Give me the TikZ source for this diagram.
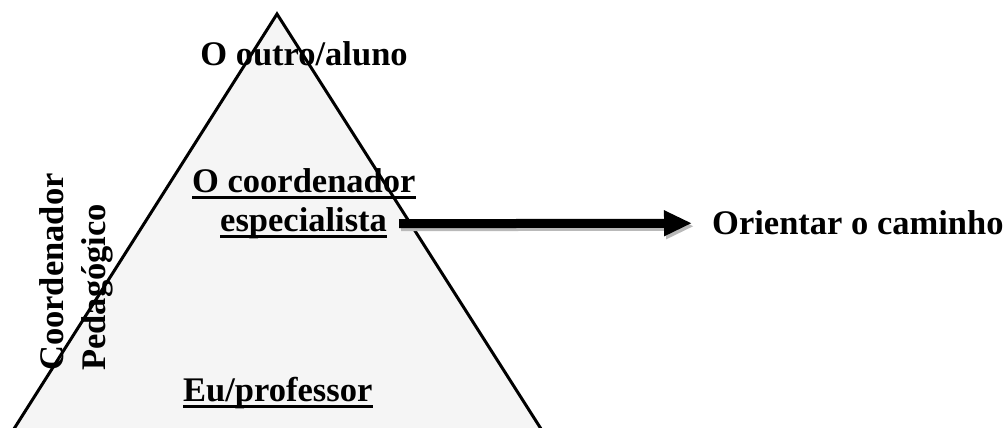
\documentclass[tikz,border=0pt]{standalone}
\usepackage{fontspec}
\setmainfont{Liberation Serif}
\usetikzlibrary{arrows.meta}

\begin{document}
\begin{tikzpicture}[x=1pt,y=1pt,
  lbl/.style={font=\fontsize{34.5}{40}\selectfont\bfseries,inner sep=0pt},
  uline/.style={line width=3pt},
  pointer/.style={line width=9pt,-{Triangle[length=28pt,width=24pt]},shorten <=12pt,shorten >=20pt}]
 \useasboundingbox (0,0) rectangle (1006,428);
 \draw[line width=3pt,fill=black!4] (12,-4) -- (277,414) -- (543,-4);
 \node[lbl,anchor=base] (outro) at (304,362) {O outro/aluno};
 \node[lbl,anchor=base west] (coord) at (192,235) {O coordenador};
 \node[lbl,anchor=base west] (spec) at (220,196) {especialista};
 \node[lbl,anchor=base west] (eu) at (183,26) {Eu/professor};
 \node[lbl,anchor=base west] (orient) at (712,193) {Orientar o caminho};
 \node[lbl,rotate=90,anchor=base west] (cp) at (63,57) {Coordenador};
 \node[lbl,rotate=90,anchor=base west] (ped) at (105,57) {Pedagógico};
 \draw[uline] ([yshift=-5pt]coord.base west) -- ([yshift=-5pt]coord.base east);
 \draw[uline] ([yshift=-5pt]spec.base west) -- ([yshift=-5pt]spec.base east);
 \draw[uline] ([yshift=-5pt]eu.base west) -- ([yshift=-5pt]eu.base east);
 \draw[pointer,gray!55] ([shift={(2pt,-3pt)}]spec.east) -- ([shift={(2pt,-3pt)}]orient.west);
 \draw[pointer,black] (spec.east) -- (orient.west);
\end{tikzpicture}
\end{document}
